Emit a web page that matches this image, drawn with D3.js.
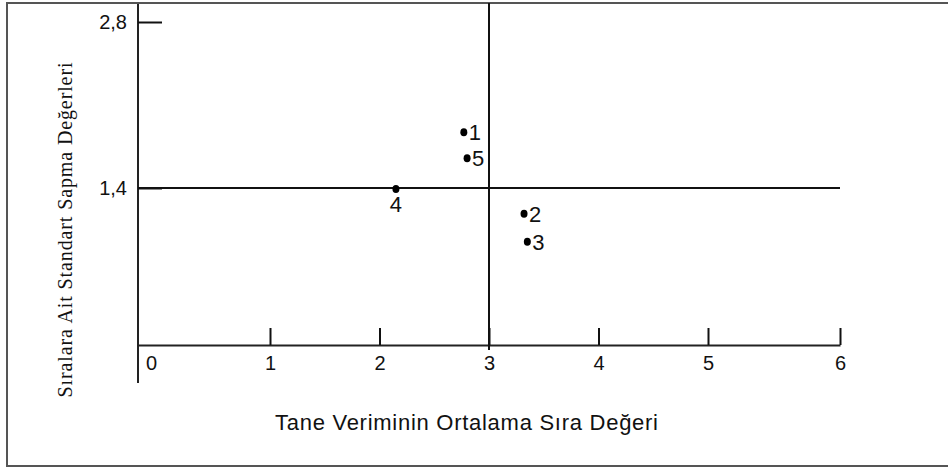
<!DOCTYPE html>
<html>
<head>
<meta charset="utf-8">
<script src="https://cdn.jsdelivr.net/npm/d3@7"></script>
<style>
  body { margin: 0; background: #fff; }
  svg { display: block; }
</style>
</head>
<body>
<svg id="chart"></svg>
<script>
// points
const pointIds = ["1", "2", "3", "4", "5"]
const meanRank = [2.77, 3.32, 3.35, 2.15, 2.80]
const stdDev = [1.87, 1.17, 0.92, 1.39, 1.65]

const xTicks = [0, 1, 2, 3, 4, 5, 6]
const yTicks = [1.4, 2.8]
const xTitle = "Tane Veriminin Ortalama Sıra Değeri"
const yTitle = "Sıralara Ait Standart Sapma Değerleri"

const width = 948,
    height = 468

const svg = d3.select("#chart")
    .attr("width", width)
    .attr("height", height)

// the original axis is not evenly spaced, so piecewise scales
const x = d3.scaleLinear()
    .domain([0, 1, 5, 6])
    .range([138, 270, 708, 840])

const y = d3.scaleLinear()
    .domain([0, 1.4, 2.8])
    .range([345, 188, 22])

const comma = d3.formatLocale({ decimal: ",", thousands: ".", grouping: [3], currency: ["", ""] }).format(".1f")

// frame
svg.append("path")
    .attr("d", `M${width + 5},3 H7 V466 H${width + 5}`)
    .attr("fill", "none")
    .attr("stroke", "#555")
    .attr("stroke-width", 2)

// x axis: ticks point up, labels below
const gx = svg.append("g")
    .attr("transform", `translate(0,${y(0)})`)
    .call(d3.axisBottom(x)
        .tickValues(xTicks)
        .tickSizeInner(-17)
        .tickSizeOuter(0)
        .tickPadding(11)
        .tickFormat(d3.format("d")))

gx.attr("font-size", null).attr("font-family", null)
gx.select(".domain").attr("stroke", "#222").attr("stroke-width", 2)
gx.selectAll(".tick line").attr("stroke", "#111").attr("stroke-width", 2)
gx.selectAll(".tick").filter(d => d === 0).select("line").remove()
gx.selectAll(".tick text")
    .style("font-family", "Liberation Sans, Arial, sans-serif")
    .style("font-size", "20px")
    .attr("fill", "#111")
gx.selectAll(".tick").filter(d => d === 0).select("text").attr("x", 13)

// y axis line drawn longer than the data range
svg.append("line")
    .attr("x1", x(0)).attr("x2", x(0))
    .attr("y1", 4).attr("y2", y(0) + 38)
    .attr("stroke", "#222")
    .attr("stroke-width", 2)

const gy = svg.append("g")
    .attr("transform", `translate(${x(0)},0)`)
    .call(d3.axisLeft(y)
        .tickValues(yTicks)
        .tickSizeInner(-24)
        .tickSizeOuter(0)
        .tickPadding(11)
        .tickFormat(comma))

gy.attr("font-size", null).attr("font-family", null)
gy.select(".domain").remove()
gy.selectAll(".tick line").attr("stroke", "#111").attr("stroke-width", 2)
gy.selectAll(".tick text")
    .style("font-family", "Liberation Sans, Arial, sans-serif")
    .style("font-size", "20px")
    .attr("fill", "#111")

// quadrant lines at 1,4 and 3
svg.append("line")
    .attr("x1", x(0)).attr("x2", x(6))
    .attr("y1", y(1.4)).attr("y2", y(1.4))
    .attr("stroke", "#111")
    .attr("stroke-width", 2)

svg.append("line")
    .attr("x1", x(3)).attr("x2", x(3))
    .attr("y1", 3).attr("y2", y(0) + 5)
    .attr("stroke", "#111")
    .attr("stroke-width", 2)

// points
const pts = pointIds.map((id, i) => ({ id: id, mx: meanRank[i], sd: stdDev[i] }))

svg.selectAll(".dot")
    .data(pts)
    .join("ellipse")
    .attr("class", "dot")
    .attr("cx", d => x(d.mx))
    .attr("cy", d => y(d.sd))
    .attr("rx", 3.5)
    .attr("ry", 4)
    .attr("fill", "#000")

svg.selectAll(".lbl")
    .data(pts)
    .join("text")
    .attr("class", "lbl")
    .attr("x", d => d.id === "4" ? x(d.mx) : x(d.mx) + 5)
    .attr("y", d => d.id === "4" ? y(d.sd) + 23 : y(d.sd) + 8)
    .attr("text-anchor", d => d.id === "4" ? "middle" : "start")
    .style("font-family", "Liberation Sans, Arial, sans-serif")
    .style("font-size", "22px")
    .attr("fill", "#111")
    .text(d => d.id)

// titles
svg.append("text")
    .attr("x", 275)
    .attr("y", 430)
    .style("font-family", "Liberation Sans, Arial, sans-serif")
    .style("font-size", "22px")
    .attr("fill", "#111")
    .attr("textLength", 383)
    .attr("lengthAdjust", "spacing")
    .text(xTitle)

svg.append("text")
    .attr("transform", "translate(72,230) rotate(-90)")
    .attr("text-anchor", "middle")
    .style("font-family", "Liberation Serif, Times New Roman, serif")
    .style("font-size", "20px")
    .attr("fill", "#111")
    .attr("textLength", 335)
    .attr("lengthAdjust", "spacing")
    .text(yTitle)
</script>
</body>
</html>
